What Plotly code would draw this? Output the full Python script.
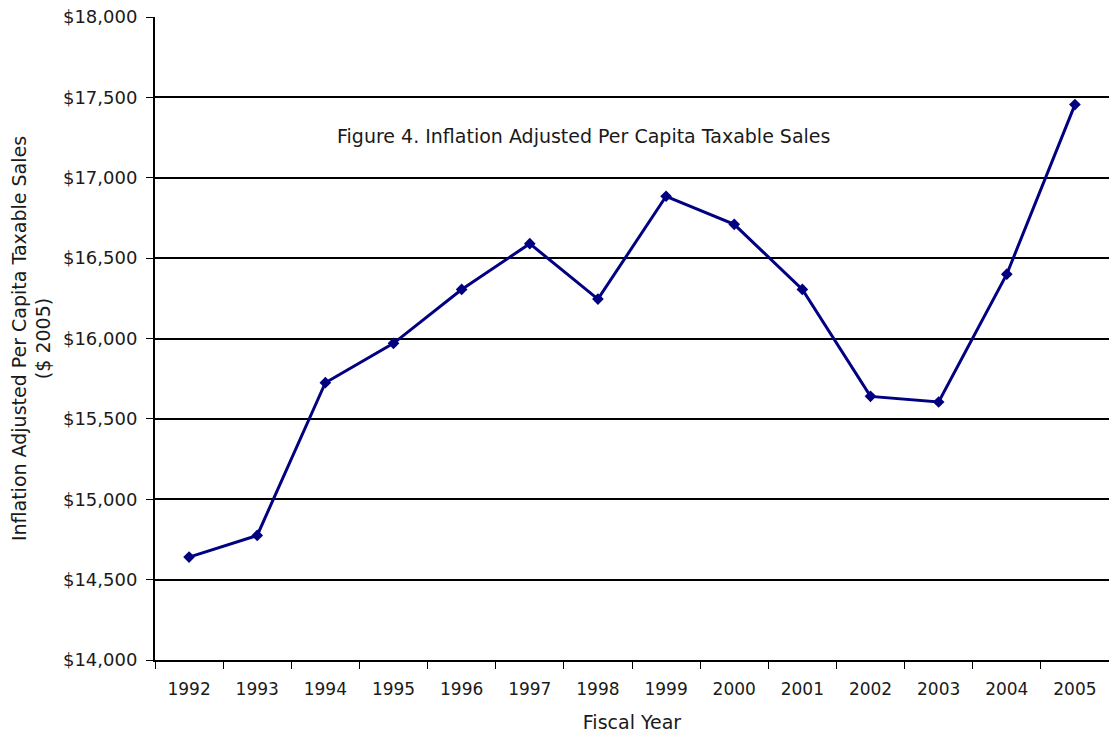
import plotly.graph_objects as go

years = ["1992", "1993", "1994", "1995", "1996", "1997", "1998",
         "1999", "2000", "2001", "2002", "2003", "2004", "2005"]
sales = [14640, 14775, 15725, 15970, 16305, 16590, 16245,
         16885, 16710, 16305, 15640, 15605, 16400, 17455]

y_ticks = [14000, 14500, 15000, 15500, 16000, 16500, 17000, 17500, 18000]

font_family = "DejaVu Sans, Verdana, sans-serif"
text_color = "#1a1a1a"

fig = go.Figure()
fig.add_trace(go.Scatter(
    x=years, y=sales, mode="lines+markers",
    line=dict(color="#000080", width=3),
    marker=dict(symbol="diamond", size=9, color="#000080"),
    showlegend=False,
))

fig.update_layout(
    width=1109, height=738,
    margin=dict(l=155, r=0, t=17, b=78),
    paper_bgcolor="white", plot_bgcolor="white",
    font=dict(family=font_family, size=18, color=text_color),
    xaxis=dict(
        type="category", tickson="boundaries",
        ticks="outside", ticklen=7, tickwidth=1, tickcolor="black",
        showline=True, linecolor="black", linewidth=2,
        showgrid=False, zeroline=False,
        tickfont=dict(size=17), ticklabelstandoff=13,
        title=dict(text="Fiscal Year", font=dict(size=19), standoff=17),
        range=[-0.5, 13.5],
    ),
    yaxis=dict(
        range=[14000, 18000], tickvals=y_ticks, tickformat="$,.0f",
        ticks="outside", ticklen=7, tickwidth=1, tickcolor="black",
        showline=True, linecolor="black", linewidth=2,
        showgrid=True, gridcolor="black", gridwidth=1.5,
        zeroline=False, tickfont=dict(size=18), ticklabelstandoff=5,
        title=dict(text="Inflation Adjusted Per Capita Taxable Sales<br>($ 2005)",
                   font=dict(size=19), standoff=7),
    ),
    annotations=[dict(
        text="Figure 4. Inflation Adjusted Per Capita Taxable Sales",
        xref="paper", yref="paper", x=0.449, y=0.815,
        xanchor="center", yanchor="middle", showarrow=False,
        font=dict(size=19, color=text_color),
    )],
)

fig.write_html("out.html")
